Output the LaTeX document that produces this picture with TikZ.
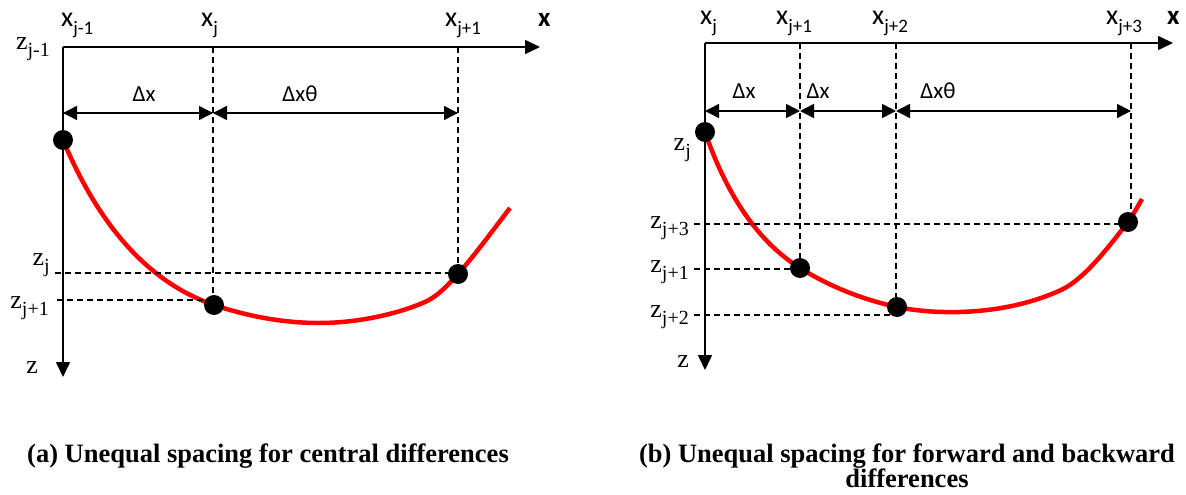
\documentclass[tikz,border=0pt]{standalone}
\usepackage{fontspec}
\setmainfont{Liberation Serif}
\newfontfamily\calfont{Carlito}
\usetikzlibrary{arrows.meta}
\newcommand{\xlab}[1]{{\calfont\fontsize{28}{28}\selectfont x\raisebox{-8pt}{\fontsize{19}{19}\selectfont #1}}}
\newcommand{\zlab}[1]{{\fontsize{26}{26}\selectfont z\raisebox{-7pt}{\fontsize{20}{20}\selectfont #1}}}
\newcommand{\dlab}[1]{{\calfont\fontsize{23}{23}\selectfont #1}}
\newcommand{\caplab}[1]{{\bfseries\fontsize{26.5}{26.5}\selectfont #1}}
\begin{document}
\begin{tikzpicture}[x=1pt,y=-1pt,
  axis/.style={line width=1.6pt,-{Triangle[length=15pt,width=14pt]}},
  guide/.style={line width=1.5pt,dash pattern=on 6pt off 4pt},
  dim/.style={line width=1.5pt,{Triangle[length=14pt,width=14pt]}-{Triangle[length=14pt,width=14pt]}},
  curve/.style={red,line width=4.5pt},
  dot/.style={circle,fill=black,inner sep=0pt,minimum size=20pt},
  lab/.style={inner sep=0pt}]
\useasboundingbox (0,0) rectangle (1186,495);

% ---------- panel (a) ----------
\coordinate (aO) at (63,47);
\coordinate (aXend) at (540,47);
\coordinate (aZend) at (63,377);
\coordinate (aT1) at (213,47);
\coordinate (aT2) at (458,47);
\coordinate (aD0) at (63,113);
\coordinate (aD1) at (213,113);
\coordinate (aD2) at (458,113);
\coordinate (aH1) at (55,273);
\coordinate (aH2) at (57,300);

\draw[curve] (63,140) .. controls (100,228) and (150,283) .. (214,305)
  .. controls (250,317) and (285,323) .. (319,323)
  .. controls (360,323) and (400,313) .. (425,302)
  .. controls (438,296) and (448,285) .. (458,274)
  .. controls (475,255) and (493,230) .. (510,208);

\draw[guide] (aT1) -- (213,305);
\draw[guide] (aT2) -- (458,274);
\draw[guide] (aH1) -- (458,273);
\draw[guide] (aH2) -- (214,300);

\draw[axis] (aO) -- (aXend);
\draw[axis] (aO) -- (aZend);
\draw[dim] (aD0) -- (aD1);
\draw[dim] (aD1) -- (aD2);

\node[dot] (ap1) at (63,140) {};
\node[dot] (ap2) at (214,305) {};
\node[dot] (ap3) at (458,274) {};

\node[lab,anchor=base west] (ax0) at (61,27) {\xlab{j-1}};
\node[lab,anchor=base west] (ax1) at (201,27) {\xlab{j}};
\node[lab,anchor=base west] (ax2) at (445,27) {\xlab{j+1}};
\node[lab,anchor=base west] (axx) at (538,27) {{\calfont\bfseries\fontsize{27}{27}\selectfont x}};
\node[lab,anchor=base east] (az0) at (50,50) {\zlab{j-1}};
\node[lab,anchor=base east] (az1) at (50,265) {\zlab{j}};
\node[lab,anchor=base east] (az2) at (49,308) {\zlab{j+1}};
\node[lab,anchor=base east] (azz) at (38,373) {{\fontsize{26}{26}\selectfont z}};
\node[lab,anchor=base] (adx1) at (144,101) {\dlab{Δx}};
\node[lab,anchor=base] (adx2) at (300,101) {\dlab{Δxθ}};
\node[lab,anchor=base west] (acap) at (27,462) {\caplab{(a) Unequal spacing for central differences}};

% ---------- panel (b) ----------
\coordinate (bO) at (705,43);
\coordinate (bXend) at (1173,43);
\coordinate (bZend) at (705,370);
\coordinate (bT1) at (800,43);
\coordinate (bT2) at (896,43);
\coordinate (bT3) at (1131,43);
\coordinate (bD0) at (705,111);
\coordinate (bD1) at (800,111);
\coordinate (bD2) at (896,111);
\coordinate (bD3) at (1131,111);
\coordinate (bH3) at (694,224);
\coordinate (bH1) at (694,269);
\coordinate (bH2) at (694,315);

\draw[curve] (705,132) .. controls (725,190) and (755,240) .. (800,268)
  .. controls (832,288) and (865,300) .. (897,307)
  .. controls (930,314) and (1000,318) .. (1061,290)
  .. controls (1085,279) and (1110,245) .. (1128,222)
  .. controls (1133,215) and (1138,206) .. (1142,199);

\draw[guide] (bT1) -- (800,268);
\draw[guide] (bT2) -- (896,307);
\draw[guide] (bT3) -- (1131,222);
\draw[guide] (bH3) -- (1128,224);
\draw[guide] (bH1) -- (800,269);
\draw[guide] (bH2) -- (897,315);

\draw[axis] (bO) -- (bXend);
\draw[axis] (bO) -- (bZend);
\draw[dim] (bD0) -- (bD1);
\draw[dim] (bD1) -- (bD2);
\draw[dim] (bD2) -- (bD3);

\node[dot] (bp0) at (705,132) {};
\node[dot] (bp1) at (800,268) {};
\node[dot] (bp2) at (897,307) {};
\node[dot] (bp3) at (1128,222) {};

\node[lab,anchor=base west] (bx0) at (700,25) {\xlab{j}};
\node[lab,anchor=base west] (bx1) at (776,25) {\xlab{j+1}};
\node[lab,anchor=base west] (bx2) at (872,25) {\xlab{j+2}};
\node[lab,anchor=base west] (bx3) at (1106,25) {\xlab{j+3}};
\node[lab,anchor=base west] (bxx) at (1167,25) {{\calfont\bfseries\fontsize{27}{27}\selectfont x}};
\node[lab,anchor=base east] (bz0) at (691,150) {\zlab{j}};
\node[lab,anchor=base east] (bz3) at (689,228) {\zlab{j+3}};
\node[lab,anchor=base east] (bz1) at (689,272) {\zlab{j+1}};
\node[lab,anchor=base east] (bz2) at (689,317) {\zlab{j+2}};
\node[lab,anchor=base east] (bzz) at (689,367) {{\fontsize{26}{26}\selectfont z}};
\node[lab,anchor=base] (bdx1) at (744,98) {\dlab{Δx}};
\node[lab,anchor=base] (bdx2) at (818,98) {\dlab{Δx}};
\node[lab,anchor=base] (bdx3) at (938,98) {\dlab{Δxθ}};
\node[lab,anchor=base] (bcap1) at (907,462) {\caplab{(b) Unequal spacing for forward and backward}};
\node[lab,anchor=base] (bcap2) at (907,487) {\caplab{differences}};
\end{tikzpicture}
\end{document}
